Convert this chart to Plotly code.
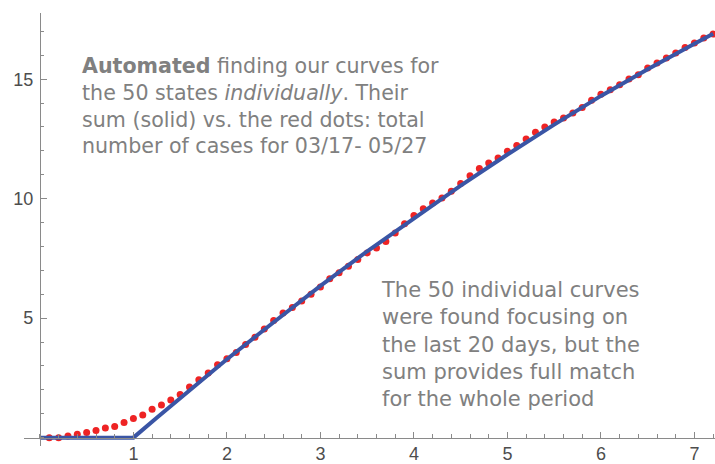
import plotly.graph_objects as go

# Red dots: total number of cases, one dot per day (03/17 - 05/27)
x_days = [0.1, 0.2, 0.3, 0.4, 0.5, 0.6, 0.7, 0.8, 0.9, 1.0,
          1.1, 1.2, 1.3, 1.4, 1.5, 1.6, 1.7, 1.8, 1.9, 2.0,
          2.1, 2.2, 2.3, 2.4, 2.5, 2.6, 2.7, 2.8, 2.9, 3.0,
          3.1, 3.2, 3.3, 3.4, 3.5, 3.6, 3.7, 3.8, 3.9, 4.0,
          4.1, 4.2, 4.3, 4.4, 4.5, 4.6, 4.7, 4.8, 4.9, 5.0,
          5.1, 5.2, 5.3, 5.4, 5.5, 5.6, 5.7, 5.8, 5.9, 6.0,
          6.1, 6.2, 6.3, 6.4, 6.5, 6.6, 6.7, 6.8, 6.9, 7.0,
          7.1, 7.2]
total_cases = [0.0, 0.0, 0.07, 0.14, 0.21, 0.3, 0.4, 0.47, 0.63, 0.8,
               0.95, 1.19, 1.37, 1.58, 1.81, 2.12, 2.42, 2.7, 3.05, 3.3,
               3.56, 3.9, 4.2, 4.55, 4.9, 5.22, 5.45, 5.72, 6.0, 6.3,
               6.65, 6.9, 7.17, 7.45, 7.73, 7.94, 8.21, 8.56, 8.95, 9.3,
               9.58, 9.82, 10.03, 10.31, 10.64, 10.96, 11.26, 11.49, 11.7, 11.98,
               12.22, 12.5, 12.78, 13.0, 13.21, 13.38, 13.59, 13.82, 14.12, 14.37,
               14.56, 14.77, 15.01, 15.19, 15.47, 15.68, 15.89, 16.1, 16.33, 16.51,
               16.72, 16.89]

# Blue line: sum of the 50 individual curves
x_sum = [0.0, 1.0, 1.25, 1.5, 1.75, 2.0, 2.5, 3.0, 3.5, 4.0, 4.5, 5.0, 5.5, 6.0, 6.5, 7.0, 7.2]
sum_curves = [0.0, 0.0, 0.83, 1.66, 2.5, 3.28, 4.83, 6.35, 7.8, 9.18, 10.55, 11.85, 13.1, 14.3, 15.42, 16.48, 16.9]

text_top = ("<b>Automated</b> finding our curves for<br>"
            "the 50 states <i>individually</i>. Their<br>"
            "sum (solid) vs. the red dots: total<br>"
            "number of cases for 03/17- 05/27")
text_bottom = ("The 50 individual curves<br>"
               "were found focusing on<br>"
               "the last 20 days, but the<br>"
               "sum provides full match<br>"
               "for the whole period")

font_name = "Liberation Sans, Arial, sans-serif"
note_font = "DejaVu Sans, sans-serif"
text_grey = "#808080"
axis_grey = "#8a8a8a"

fig = go.Figure()
fig.add_trace(go.Scatter(x=x_days, y=total_cases, mode="markers",
                         marker=dict(color="#ee2324", size=7), hoverinfo="skip"))
fig.add_trace(go.Scatter(x=x_sum, y=sum_curves, mode="lines",
                         line=dict(color="#3a55a5", width=4), hoverinfo="skip"))

fig.add_annotation(x=0.43, y=16.15, xref="x", yref="y", xanchor="left", yanchor="top",
                   align="left", showarrow=False, text=text_top,
                   font=dict(family=note_font, size=20.6, color=text_grey))
fig.add_annotation(x=3.63, y=6.75, xref="x", yref="y", xanchor="left", yanchor="top",
                   align="left", showarrow=False, text=text_bottom,
                   font=dict(family=note_font, size=21, color=text_grey))

fig.update_layout(
    width=715, height=464,
    margin=dict(l=24, r=0, t=13, b=18),
    plot_bgcolor="white", paper_bgcolor="white",
    showlegend=False,
    font=dict(family=font_name),
    xaxis=dict(range=[-0.17, 7.22], anchor="free", position=0.0193,
               showgrid=False, zeroline=False, showline=True, linecolor=axis_grey, linewidth=1,
               tickmode="array", tickvals=[1, 2, 3, 4, 5, 6, 7],
               ticks="inside", ticklen=6, tickcolor=axis_grey,
               minor=dict(dtick=0.2, tick0=0, ticks="inside", ticklen=3.5, tickcolor=axis_grey),
               tickfont=dict(size=18, color="#4d4d4d"), automargin=False),
    yaxis=dict(range=[-0.35, 17.77], anchor="free", position=0.023,
               showgrid=False, zeroline=False, showline=True, linecolor=axis_grey, linewidth=1,
               tickmode="array", tickvals=[5, 10, 15],
               ticks="inside", ticklen=6, tickcolor=axis_grey, ticklabelstandoff=3,
               minor=dict(dtick=1, tick0=0, ticks="inside", ticklen=3.5, tickcolor=axis_grey),
               tickfont=dict(size=18, color="#4d4d4d"), automargin=False),
)

# the page body has a default margin; drop it so the figure sits at the window corner
fig.write_html("out.html", config={"displayModeBar": False},
               post_script="document.body.style.margin='0';")
